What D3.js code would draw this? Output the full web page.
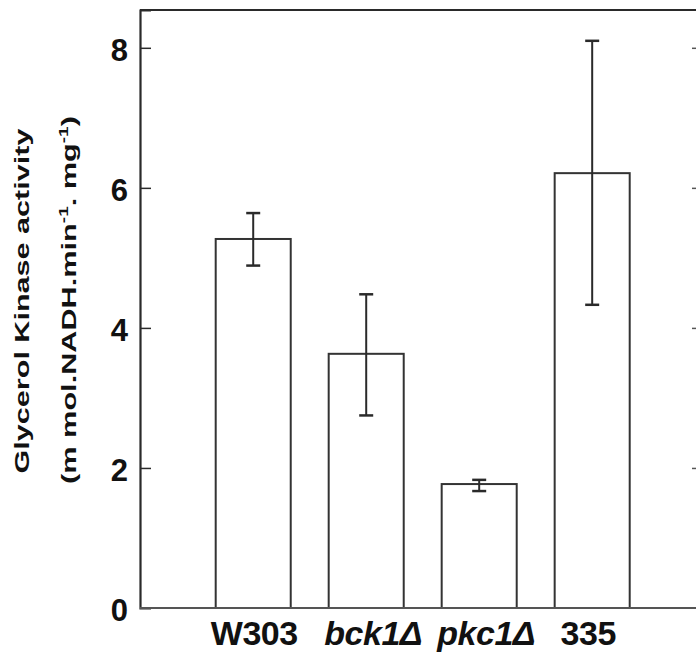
<!DOCTYPE html>
<html>
<head>
<meta charset="utf-8">
<script src="https://cdn.jsdelivr.net/npm/d3@7"></script>
<style>
  html, body { margin: 0; padding: 0; background: #fff; }
  svg { display: block; }
  text { font-family: "Liberation Sans", Arial, sans-serif; fill: #111; }
</style>
</head>
<body>
<svg id="chart" width="696" height="659"></svg>
<script>
// ---- data ----
const categories = ["W303", "bck1Δ", "pkc1Δ", "335"];
const italicCats = [false, true, true, false];
const means = [5.27, 3.63, 1.77, 6.21];
const errLow = [4.89, 2.75, 1.67, 4.33];
const errHigh = [5.64, 4.48, 1.83, 8.10];
const yTicks = [0, 2, 4, 6, 8];
const yTitle1 = "Glycerol Kinase activity";

// ---- layout ----
const svg = d3.select("#chart");
const plotL = 140, plotR = 698, plotT = 10, plotB = 608;

const y = d3.scaleLinear().domain([0, 8.54]).range([plotB, plotT]);
const x = d3.scaleBand().domain(categories).range([215.7, 629.7])
  .paddingInner(0.336).paddingOuter(0);

const ink = "#2a2a2a";

// frame
svg.append("line").attr("x1", plotL).attr("x2", plotR).attr("y1", plotT).attr("y2", plotT)
  .attr("stroke", ink).attr("stroke-width", 2.2);
svg.append("line").attr("x1", plotR).attr("x2", plotR).attr("y1", plotT).attr("y2", plotB)
  .attr("stroke", ink).attr("stroke-width", 2);

// bars
const data = categories.map((c, i) => ({c, m: means[i], lo: errLow[i], hi: errHigh[i], it: italicCats[i]}));
svg.append("g").selectAll("rect").data(data).join("rect")
  .attr("x", d => x(d.c)).attr("width", x.bandwidth())
  .attr("y", d => y(d.m)).attr("height", d => y(0) - y(d.m))
  .attr("fill", "#fff").attr("stroke", "#333").attr("stroke-width", 2);

// error bars
const eg = svg.append("g").attr("stroke", ink).attr("stroke-width", 2);
data.forEach(d => {
  const cx = x(d.c) + x.bandwidth() / 2;
  eg.append("line").attr("x1", cx).attr("x2", cx).attr("y1", y(d.hi)).attr("y2", y(d.lo));
  eg.append("line").attr("x1", cx - 7).attr("x2", cx + 7).attr("y1", y(d.hi)).attr("y2", y(d.hi)).attr("stroke-width", 2.5);
  eg.append("line").attr("x1", cx - 7).attr("x2", cx + 7).attr("y1", y(d.lo)).attr("y2", y(d.lo)).attr("stroke-width", 2.5);
});

// left axis
const yAxis = svg.append("g").attr("transform", `translate(${plotL},0)`)
  .call(d3.axisLeft(y).tickValues(yTicks).tickSize(-11).tickPadding(12).tickFormat(d3.format("d")));
yAxis.select(".domain").attr("stroke", ink).attr("stroke-width", 2.2);
yAxis.selectAll(".tick line").attr("stroke", ink).attr("stroke-width", 1.5)
  .filter(d => d === 0).remove();
yAxis.selectAll(".tick text").attr("font-size", 31).attr("font-weight", "bold")
  .attr("fill", "#111").attr("dy", "0.4em")
  .style("font-family", "Liberation Sans, Arial, sans-serif");

// right ticks
const yAxisR = svg.append("g").attr("transform", `translate(${plotR},0)`)
  .call(d3.axisRight(y).tickValues(yTicks.filter(t => t > 0)).tickSize(-6).tickFormat(""));
yAxisR.select(".domain").remove();
yAxisR.selectAll(".tick line").attr("stroke", "#555").attr("stroke-width", 1.5);

// bottom axis
const xAxis = svg.append("g").attr("transform", `translate(0,${plotB})`)
  .call(d3.axisBottom(x).tickSize(0).tickPadding(13));
xAxis.select(".domain").attr("d", `M${plotL},0H${plotR}`).attr("stroke", "#555").attr("stroke-width", 2.2);
xAxis.selectAll(".tick text")
  .attr("font-size", 34).attr("font-weight", "bold").attr("fill", "#111")
  .attr("font-style", (d, i) => italicCats[i] ? "italic" : "normal")
  .attr("dx", (d, i) => italicCats[i] ? 7 : (i === 3 ? -4 : 1))
  .attr("letter-spacing", -0.5)
  .style("font-family", "Liberation Sans, Arial, sans-serif");

// y title (two lines)
function stretchedTitle(cx, cy, targetLen, build) {
  const g = svg.append("g");
  const t = g.append("text").attr("text-anchor", "middle");
  build(t);
  const w = t.node().getComputedTextLength();
  g.attr("transform", `translate(${cx},${cy}) rotate(-90) scale(${targetLen / w},1)`);
}
stretchedTitle(29, 301, 345, t => {
  t.attr("font-size", 21).attr("font-weight", "bold").text(yTitle1);
});
stretchedTitle(76, 300, 368, t => {
  t.attr("font-size", 21).attr("font-weight", "bold");
  t.append("tspan").text("(m mol.NADH.min");
  t.append("tspan").attr("dy", -8).attr("font-size", 13).text("-1");
  t.append("tspan").attr("dy", 8).text(". mg");
  t.append("tspan").attr("dy", -8).attr("font-size", 13).text("-1");
  t.append("tspan").attr("dy", 8).text(")");
});
</script>
</body>
</html>
